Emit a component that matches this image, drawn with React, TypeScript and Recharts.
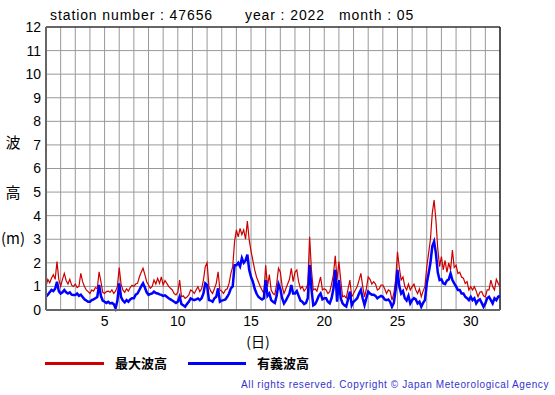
import { LineChart, Line, XAxis, YAxis, CartesianGrid, ReferenceLine } from 'recharts'

// 3-hourly readings, 8 per day, May 1 00h .. June 1 00h
const HOURS_PER_STEP = 3

const maxWave = [
  1.0, 1.3, 1.15, 1.35, 1.5, 1.3, 2.05, 1.3, // 1
  1.0, 1.3, 1.55, 1.25, 1.1, 1.3, 1.05, 1.0, // 2
  1.1, 0.95, 1.0, 1.55, 1.2, 1.0, 0.85, 0.78, // 3
  0.7, 0.85, 0.8, 0.95, 0.9, 1.62, 1.2, 0.75, // 4
  0.7, 0.78, 0.8, 0.75, 0.85, 0.7, 0.8, 1.0, // 5
  1.8, 1.1, 0.85, 0.75, 0.9, 0.8, 0.95, 1.05, // 6
  1.0, 1.1, 1.13, 1.4, 1.6, 1.77, 1.5, 1.2, // 7
  1.06, 0.92, 1.0, 1.27, 1.1, 1.34, 1.13, 1.4, // 8
  1.06, 1.25, 1.13, 1.0, 0.92, 0.85, 0.7, 0.64, // 9
  0.75, 1.27, 0.56, 0.6, 0.49, 0.55, 0.64, 0.85, // 10
  0.8, 0.7, 0.85, 0.99, 0.78, 0.9, 1.27, 1.84, // 11
  2.0, 0.99, 0.8, 0.7, 0.9, 1.13, 1.62, 0.85, // 12
  0.8, 0.7, 0.85, 0.9, 1.13, 1.55, 1.84, 2.9, // 13
  3.4, 3.1, 3.46, 3.2, 3.4, 3.0, 3.77, 2.97, // 14
  2.5, 2.1, 1.7, 1.4, 1.2, 1.0, 0.85, 0.7, // 15
  1.9, 1.0, 1.5, 0.85, 0.7, 0.65, 1.1, 1.77, // 16
  1.6, 1.0, 0.7, 0.9, 1.1, 1.3, 1.77, 1.2, // 17
  1.6, 1.7, 1.2, 0.9, 1.0, 0.8, 0.9, 1.1, // 18
  3.1, 1.7, 0.85, 0.9, 0.8, 1.1, 1.4, 0.85, // 19
  0.9, 0.85, 0.7, 0.78, 1.1, 1.5, 2.3, 1.27, // 20
  2.05, 1.27, 0.56, 0.6, 0.5, 0.9, 1.27, 0.56, // 21
  0.7, 0.85, 1.0, 1.27, 1.55, 1.0, 0.56, 0.9, // 22
  1.4, 1.3, 1.1, 1.2, 1.1, 0.85, 0.9, 1.06, // 23
  1.06, 0.9, 0.7, 0.85, 0.8, 0.42, 0.7, 1.27, // 24
  2.47, 1.8, 1.27, 1.4, 0.99, 0.85, 1.1, 0.85, // 25
  0.99, 1.1, 0.85, 0.7, 0.9, 0.56, 0.8, 1.0, // 26
  1.84, 2.4, 3.0, 4.1, 4.66, 3.8, 2.6, 1.84, // 27
  2.26, 1.7, 2.1, 1.6, 2.0, 1.7, 2.54, 1.8, // 28
  1.9, 1.55, 1.6, 1.4, 1.35, 1.13, 1.2, 0.85, // 29
  0.99, 0.85, 0.99, 0.8, 0.56, 0.75, 0.78, 0.6, // 30
  0.56, 0.85, 0.85, 1.27, 0.99, 0.85, 1.3, 1.13, // 31
  1.0,
]

const sigWave = [
  0.56, 0.65, 0.75, 0.85, 0.8, 0.9, 1.2, 0.8, // 1
  0.7, 0.75, 0.85, 0.75, 0.7, 0.75, 0.65, 0.64, // 2
  0.64, 0.7, 0.6, 0.65, 0.55, 0.45, 0.4, 0.35, // 3
  0.35, 0.42, 0.45, 0.5, 0.55, 1.06, 0.6, 0.4, // 4
  0.35, 0.3, 0.35, 0.28, 0.3, 0.25, 0.07, 0.4, // 5
  1.13, 0.55, 0.4, 0.32, 0.42, 0.35, 0.45, 0.5, // 6
  0.5, 0.65, 0.7, 0.85, 1.0, 1.13, 0.95, 0.75, // 7
  0.64, 0.68, 0.7, 0.78, 0.72, 0.7, 0.66, 0.64, // 8
  0.6, 0.62, 0.56, 0.5, 0.45, 0.4, 0.35, 0.3, // 9
  0.35, 0.56, 0.25, 0.2, 0.14, 0.25, 0.35, 0.49, // 10
  0.45, 0.42, 0.45, 0.49, 0.42, 0.5, 0.7, 1.13, // 11
  1.06, 0.42, 0.4, 0.35, 0.5, 0.56, 0.92, 0.35, // 12
  0.4, 0.42, 0.45, 0.56, 0.7, 0.92, 1.0, 1.9, // 13
  1.9, 2.0, 1.85, 2.2, 2.0, 2.1, 2.35, 1.7, // 14
  1.4, 1.2, 0.9, 0.7, 0.56, 0.5, 0.45, 0.5, // 15
  1.27, 0.6, 0.7, 0.42, 0.35, 0.3, 0.6, 1.1, // 16
  0.9, 0.5, 0.28, 0.4, 0.55, 0.7, 1.06, 0.7, // 17
  0.7, 0.8, 0.6, 0.4, 0.35, 0.25, 0.3, 0.5, // 18
  1.9, 0.9, 0.2, 0.25, 0.4, 0.6, 0.7, 0.45, // 19
  0.5, 0.5, 0.35, 0.28, 0.5, 0.9, 1.7, 0.35, // 20
  1.27, 0.5, 0.28, 0.2, 0.15, 0.45, 0.78, 0.2, // 21
  0.35, 0.42, 0.5, 0.7, 0.85, 0.5, 0.21, 0.5, // 22
  0.78, 0.7, 0.65, 0.65, 0.6, 0.5, 0.55, 0.6, // 23
  0.56, 0.45, 0.42, 0.45, 0.35, 0.14, 0.3, 0.85, // 24
  1.7, 1.0, 0.7, 0.8, 0.5, 0.4, 0.6, 0.28, // 25
  0.42, 0.5, 0.45, 0.28, 0.35, 0.14, 0.3, 0.42, // 26
  1.13, 1.55, 2.0, 2.7, 2.9, 2.4, 1.6, 1.27, // 27
  1.3, 1.13, 1.1, 1.25, 1.3, 1.55, 1.27, 1.13, // 28
  1.0, 0.85, 0.85, 0.7, 0.7, 0.56, 0.5, 0.42, // 29
  0.56, 0.42, 0.5, 0.28, 0.4, 0.45, 0.3, 0.14, // 30
  0.28, 0.5, 0.56, 0.42, 0.28, 0.5, 0.42, 0.56, // 31
  0.6,
]

const dayTicks = Array.from({ length: 32 }, (_, i) => i + 1)
const labeledDays = [5, 10, 15, 20, 25, 30]
const heightTicks = [0, 1, 2, 3, 4, 5, 6, 7, 8, 9, 10, 11, 12]

const data = maxWave.map((v, i) => ({
  t: 1 + (i * HOURS_PER_STEP) / 24,
  max: v,
  sig: sigWave[i],
}))

const font = '"Liberation Sans", Arial, Helvetica, sans-serif'
const cjk = '"Noto Sans CJK JP", sans-serif'

export default function App() {
  return (
    <div style={{ position: 'absolute', left: 0, top: 0, width: 555, height: 395, background: '#fff' }}>
      <LineChart
        width={555}
        height={395}
        data={data}
        margin={{ top: 27, right: 55, bottom: 55, left: 0 }}
      >
        <CartesianGrid stroke="#999" strokeWidth={1} />
        <XAxis
          dataKey="t"
          type="number"
          domain={[1, 32]}
          ticks={dayTicks}
          interval={0}
          height={30}
          tickFormatter={(d: number) => (labeledDays.includes(d) ? String(d) : '')}
          tickLine={false}
          tickSize={0}
          tickMargin={6}
          axisLine={{ stroke: '#666', strokeWidth: 2 }}
          tick={{ fontSize: 14, fill: '#000', fontFamily: font }}
        />
        <YAxis
          type="number"
          domain={[0, 12]}
          ticks={heightTicks}
          interval={0}
          width={46}
          tickLine={false}
          tickSize={0}
          tickMargin={5}
          axisLine={{ stroke: '#666', strokeWidth: 2 }}
          tick={{ fontSize: 14, fill: '#000', fontFamily: font }}
        />
        <ReferenceLine y={12} stroke="#000" strokeWidth={1.2} />
        <ReferenceLine x={32} stroke="#000" strokeWidth={1.2} />
        <Line
          type="linear"
          dataKey="max"
          stroke="#cc0000"
          strokeWidth={1.2}
          dot={false}
          isAnimationActive={false}
        />
        <Line
          type="linear"
          dataKey="sig"
          stroke="#0000ff"
          strokeWidth={2.5}
          dot={false}
          isAnimationActive={false}
        />
      </LineChart>

      <svg
        width={555}
        height={395}
        style={{ position: 'absolute', left: 0, top: 0, pointerEvents: 'none' }}
      >
        <text x={50} y={20} fontSize={14} letterSpacing={0.9} fontFamily={font} fill="#000">
          station number : 47656
        </text>
        <text x={245} y={20} fontSize={14} letterSpacing={0.9} fontFamily={font} fill="#000">
          year : 2022
        </text>
        <text x={339} y={20} fontSize={14} letterSpacing={0.9} fontFamily={font} fill="#000">
          month : 05
        </text>

        <text x={13} y={148} fontSize={15} fontFamily={cjk} textAnchor="middle" fill="#000">波</text>
        <text x={13} y={198} fontSize={15} fontFamily={cjk} textAnchor="middle" fill="#000">高</text>
        <text x={13} y={244} fontSize={15} fontFamily={cjk} textAnchor="middle" fill="#000">(m)</text>
        <text x={258} y={347} fontSize={14} fontFamily={cjk} textAnchor="middle" fill="#000">(日)</text>

        <line x1={45} y1={363.5} x2={104} y2={363.5} stroke="#cc0000" strokeWidth={3} />
        <text x={115} y={368} fontSize={13} fontWeight="bold" fontFamily={cjk} fill="#000">最大波高</text>
        <line x1={188} y1={363.5} x2={246} y2={363.5} stroke="#0000ff" strokeWidth={3} />
        <text x={257} y={368} fontSize={13} fontWeight="bold" fontFamily={cjk} fill="#000">有義波高</text>

        <text x={549} y={388} fontSize={10} letterSpacing={0.6} fontFamily={font} textAnchor="end" fill="#3333cc">
          All rights reserved. Copyright © Japan Meteorological Agency
        </text>
      </svg>
    </div>
  )
}
